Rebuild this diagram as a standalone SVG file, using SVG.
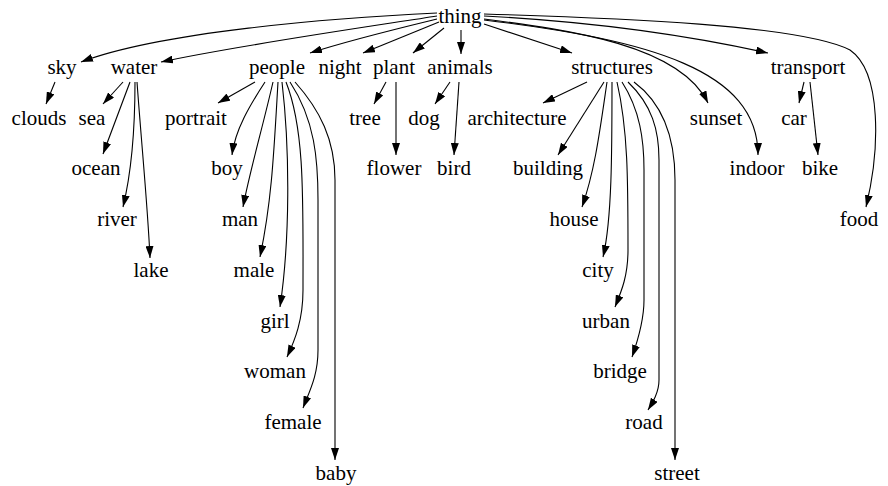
<svg xmlns="http://www.w3.org/2000/svg" width="888" height="486" viewBox="0 0 888 486">
<style>
text{font-family:'Liberation Serif',serif;font-size:21px;fill:#000;text-anchor:middle}
.e{fill:none;stroke:#000;stroke-width:1.1;marker-end:url(#ah)}
</style>
<defs>
<marker id="ah" markerUnits="userSpaceOnUse" markerWidth="12" markerHeight="8" refX="12" refY="4" orient="auto">
<path d="M0,0 L12,4 L0,8 z" fill="#000"/>
</marker>
</defs>
<rect width="888" height="486" fill="#fff"/>
<g id="edges">
<path class="e" d="M437,13 C330,18 160,32 81,62"/>
<path class="e" d="M437,16 C380,25 240,45 161,62"/>
<path class="e" d="M437,19 C400,28 350,40 310,53"/>
<path class="e" d="M439,22 L363,53"/>
<path class="e" d="M444,28 L413,53"/>
<path class="e" d="M461,30 L461,54"/>
<path class="e" d="M484,24 L572,53"/>
<path class="e" d="M484,19 C570,30 680,45 708,103"/>
<path class="e" d="M484,20 C650,40 758,70 758,155"/>
<path class="e" d="M484,16 C600,22 700,38 768,53"/>
<path class="e" d="M484,14 C620,18 800,25 850,50 C882,72 880,150 866,207"/>
<path class="e" d="M55,82 L46,104"/>
<path class="e" d="M123,82 L103,104"/>
<path class="e" d="M130,82 L103,154"/>
<path class="e" d="M135,82 C135,130 132,170 123,207"/>
<path class="e" d="M137,82 C142,150 148,210 150,258"/>
<path class="e" d="M255,82 L218,103"/>
<path class="e" d="M265,82 C250,105 235,130 232,155"/>
<path class="e" d="M273,82 C262,130 250,170 243,207"/>
<path class="e" d="M278,82 C274,150 272,200 260,257"/>
<path class="e" d="M282,82 C290,150 290,240 280,307"/>
<path class="e" d="M286,82 C305,130 303,200 303,290 C303,320 295,340 287,357"/>
<path class="e" d="M290,82 C315,120 318,160 318,200 L318,350 C318,375 310,390 303,408"/>
<path class="e" d="M295,82 C320,110 335,140 335,180 L335,460"/>
<path class="e" d="M386,82 L374,104"/>
<path class="e" d="M396,82 L396,155"/>
<path class="e" d="M450,82 L435,104"/>
<path class="e" d="M459,82 L454,155"/>
<path class="e" d="M587,82 L543,103"/>
<path class="e" d="M604,82 L558,155"/>
<path class="e" d="M607,82 C600,130 595,170 582,207"/>
<path class="e" d="M612,82 C612,150 612,220 603,257"/>
<path class="e" d="M617,82 C628,130 628,180 628,250 C628,275 622,290 615,307"/>
<path class="e" d="M622,82 C640,110 644,140 644,170 L644,300 C644,320 638,340 632,357"/>
<path class="e" d="M628,82 C652,105 659,130 659,160 L659,380 C659,392 653,402 648,410"/>
<path class="e" d="M634,82 C665,105 675,140 675,180 L675,460"/>
<path class="e" d="M804,82 L799,103"/>
<path class="e" d="M810,82 L818,155"/>
</g>
<g font-family="'Liberation Serif', serif" font-size="21" text-anchor="middle">
<g id="n-thing"><text x="460" y="23">thing</text></g>
<g id="n-sky"><text x="62" y="74">sky</text></g>
<g id="n-water"><text x="134" y="74">water</text></g>
<g id="n-people"><text x="277" y="74">people</text></g>
<g id="n-night"><text x="340" y="74">night</text></g>
<g id="n-plant"><text x="394" y="74">plant</text></g>
<g id="n-animals"><text x="460" y="74">animals</text></g>
<g id="n-structures"><text x="612" y="74">structures</text></g>
<g id="n-transport"><text x="808" y="74">transport</text></g>
<g id="n-clouds"><text x="39" y="124.5">clouds</text></g>
<g id="n-sea"><text x="92" y="124.5">sea</text></g>
<g id="n-portrait"><text x="196" y="124.5">portrait</text></g>
<g id="n-tree"><text x="365" y="124.5">tree</text></g>
<g id="n-dog"><text x="424" y="124.5">dog</text></g>
<g id="n-architecture"><text x="517" y="124.5">architecture</text></g>
<g id="n-sunset"><text x="716" y="124.5">sunset</text></g>
<g id="n-car"><text x="794" y="124.5">car</text></g>
<g id="n-ocean"><text x="96" y="175">ocean</text></g>
<g id="n-boy"><text x="227" y="175">boy</text></g>
<g id="n-flower"><text x="394" y="175">flower</text></g>
<g id="n-bird"><text x="454" y="175">bird</text></g>
<g id="n-building"><text x="548" y="175">building</text></g>
<g id="n-indoor"><text x="757" y="175">indoor</text></g>
<g id="n-bike"><text x="820" y="175">bike</text></g>
<g id="n-river"><text x="117" y="226">river</text></g>
<g id="n-man"><text x="240" y="226">man</text></g>
<g id="n-house"><text x="574" y="226">house</text></g>
<g id="n-food"><text x="859" y="226">food</text></g>
<g id="n-lake"><text x="151" y="277">lake</text></g>
<g id="n-male"><text x="254" y="277">male</text></g>
<g id="n-city"><text x="598" y="277">city</text></g>
<g id="n-girl"><text x="275" y="327.5">girl</text></g>
<g id="n-urban"><text x="606" y="327.5">urban</text></g>
<g id="n-woman"><text x="275" y="378">woman</text></g>
<g id="n-bridge"><text x="620" y="378">bridge</text></g>
<g id="n-female"><text x="293" y="429">female</text></g>
<g id="n-road"><text x="644" y="429">road</text></g>
<g id="n-baby"><text x="336" y="480">baby</text></g>
<g id="n-street"><text x="677" y="480">street</text></g>
</g>
</svg>
